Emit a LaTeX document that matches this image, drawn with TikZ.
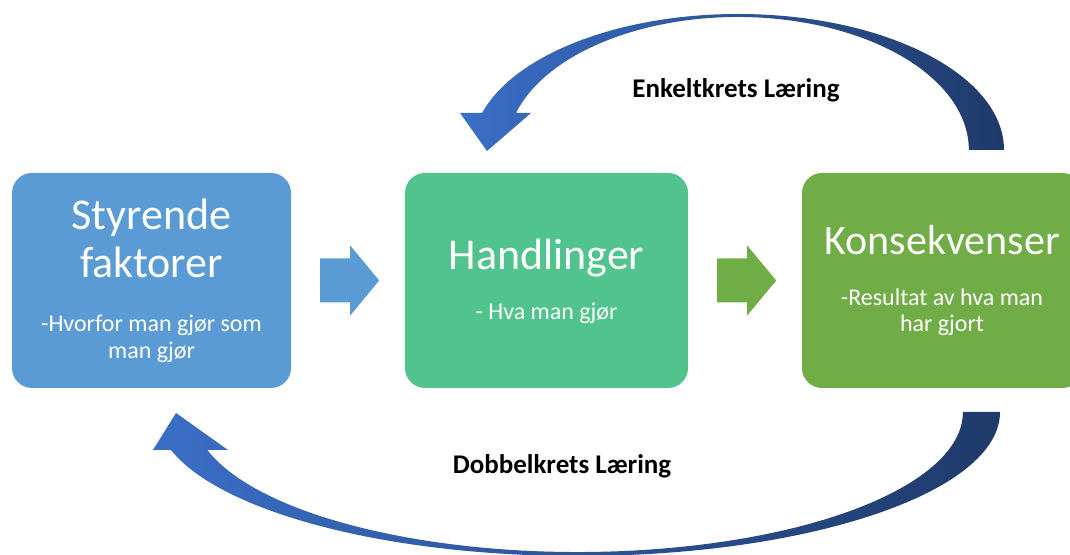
\documentclass[tikz,border=0pt]{standalone}
\usepackage{fontspec}
\setmainfont{Carlito}
\usetikzlibrary{calc}
\definecolor{boxblue}{RGB}{91,155,213}
\definecolor{boxgreen}{RGB}{80,196,140}
\definecolor{boxlime}{RGB}{112,173,71}
\definecolor{loopdark}{RGB}{31,58,106}
\definecolor{looplight}{RGB}{58,110,198}

\begin{document}
\begin{tikzpicture}[x=1pt,y=1pt,
  stage/.style={rectangle, rounded corners=20pt, inner sep=0pt,
                minimum width=#1, minimum height=215pt},
  headline/.style={text=white, inner sep=0pt, anchor=base,
                   font=\fontsize{44}{48}\selectfont},
  subline/.style={text=white, inner sep=0pt, anchor=base,
                  font=\fontsize{24}{28}\selectfont},
  looplabel/.style={text=black, inner sep=0pt, anchor=base,
                    font=\bfseries\fontsize{27}{30}\selectfont},
  loopband/.style={left color=looplight, right color=loopdark}
]
\useasboundingbox (0,0) rectangle (1070,554);
\clip (0,0) rectangle (1070,554);

% the three stages
\node[stage=279pt, fill=boxblue]  (sty)  at (151.5,273.5) {};
\node[stage=283pt, fill=boxgreen] (hand) at (546.5,273.5) {};
\node[stage=280pt, fill=boxlime]  (kons) at (942,273.5) {};

% stage texts
\node[headline] (styA) at (151.5,324) {Styrende};
\node[headline] (styB) at (151.5,276) {faktorer};
\node[subline]  (styC) at (151.5,222) {-Hvorfor man gjør som};
\node[subline]  (styD) at (151.5,195) {man gjør};

\node[headline] (handA) at (546.5,284) {Handlinger};
\node[subline]  (handB) at (546.5,234) {- Hva man gjør};

\node[headline, font=\fontsize{42}{46}\selectfont] (konsA) at (942,299) {Konsekvenser};
\node[subline]  (konsB) at (942,248) {-Resultat av hva man};
\node[subline]  (konsC) at (942,222) {har gjort};

% block arrows between the stages
\fill[boxblue] ($(sty.east)+(29,0)$) ++(0,22) -- ++(30,0) -- ++(0,13)
  -- ++(29,-35) -- ++(-29,-35) -- ++(0,13) -- ++(-30,0) -- cycle;
\fill[boxlime] ($(hand.east)+(29,0)$) ++(0,22) -- ++(30,0) -- ++(0,13)
  -- ++(29,-35) -- ++(-29,-35) -- ++(0,13) -- ++(-30,0) -- cycle;

% single loop: from the consequences back over to the actions
\coordinate (topOuter) at (1004,404);
\coordinate (topInner) at (516,441);
\shade[loopband] (topOuter)
  arc[start angle=0, end angle=164.2, x radius=266, y radius=136]
  -- (460,441) -- (487,403) -- (531,441) -- (topInner)
  arc[start angle=163.85, end angle=0, x radius=231, y radius=133] -- cycle;

% double loop: from the consequences back under to the governing factors
\coordinate (botOuter) at (1000,142);
\coordinate (botInner) at (207.4,104);
\shade[loopband] (botOuter)
  arc[start angle=0, end angle=-164.7, x radius=422, y radius=144]
  -- (153,104) -- (176,141) -- (228,104) -- (botInner)
  arc[start angle=-164.25, end angle=0, x radius=385, y radius=140] -- cycle;

% loop labels
\node[looplabel] (single) at (736,456) {Enkeltkrets Læring};
\node[looplabel] (double) at (562,81) {Dobbelkrets Læring};
\end{tikzpicture}
\end{document}
